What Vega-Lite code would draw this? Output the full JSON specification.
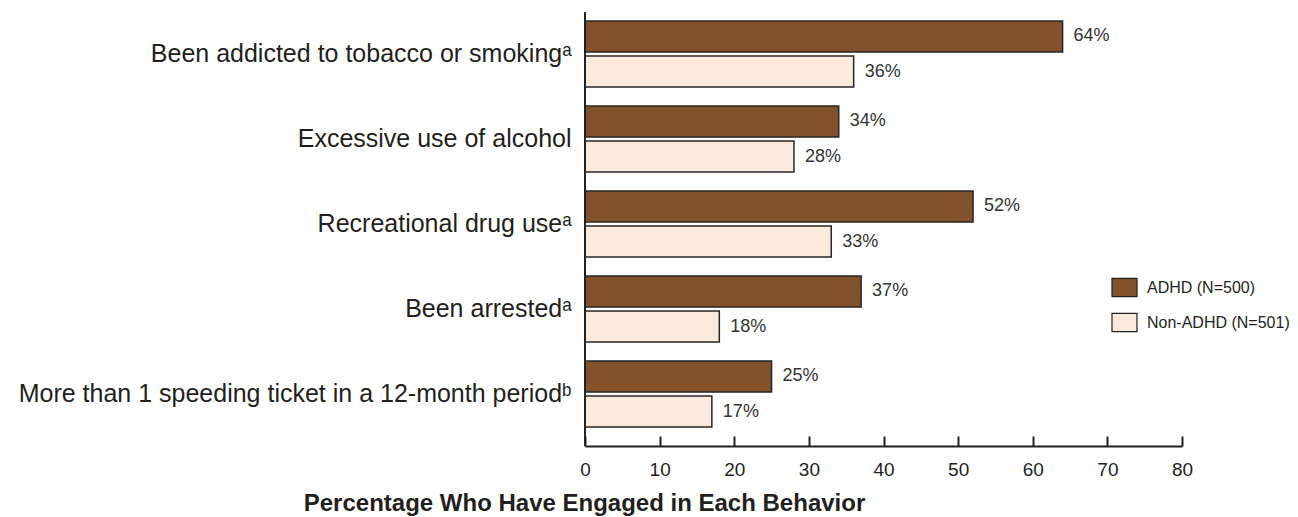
{
  "$schema": "https://vega.github.io/schema/vega-lite/v6.json",
  "width": 597,
  "height": 434,
  "autosize": {"type": "none"},
  "padding": {"left": 585, "top": 12, "right": 116, "bottom": 71},
  "background": "white",
  "config": {"view": {"stroke": null}, "font": "Liberation Sans"},
  "data": {
    "values": [
      {"behavior": "Been addicted to tobacco or smokingᵃ", "group": "ADHD (N=500)", "value": 64, "label": "64%"},
      {"behavior": "Been addicted to tobacco or smokingᵃ", "group": "Non-ADHD (N=501)", "value": 36, "label": "36%"},
      {"behavior": "Excessive use of alcohol", "group": "ADHD (N=500)", "value": 34, "label": "34%"},
      {"behavior": "Excessive use of alcohol", "group": "Non-ADHD (N=501)", "value": 28, "label": "28%"},
      {"behavior": "Recreational drug useᵃ", "group": "ADHD (N=500)", "value": 52, "label": "52%"},
      {"behavior": "Recreational drug useᵃ", "group": "Non-ADHD (N=501)", "value": 33, "label": "33%"},
      {"behavior": "Been arrestedᵃ", "group": "ADHD (N=500)", "value": 37, "label": "37%"},
      {"behavior": "Been arrestedᵃ", "group": "Non-ADHD (N=501)", "value": 18, "label": "18%"},
      {"behavior": "More than 1 speeding ticket in a 12-month periodᵇ", "group": "ADHD (N=500)", "value": 25, "label": "25%"},
      {"behavior": "More than 1 speeding ticket in a 12-month periodᵇ", "group": "Non-ADHD (N=501)", "value": 17, "label": "17%"}
    ]
  },
  "layer": [
    {
      "mark": {"type": "bar", "stroke": "#262626", "strokeWidth": 1.5},
      "encoding": {
        "y": {
          "field": "behavior", "type": "nominal", "sort": null,
          "scale": {"range": [9, 415], "paddingInner": 0.2235, "paddingOuter": 0},
          "axis": {"title": null, "domain": false, "ticks": false, "labelFontSize": 25, "labelColor": "#231f20", "labelPadding": 14, "labelLimit": 800}
        },
        "yOffset": {"field": "group", "type": "nominal", "sort": ["ADHD (N=500)", "Non-ADHD (N=501)"], "scale": {"paddingInner": 0.12, "paddingOuter": 0}},
        "x": {
          "field": "value", "type": "quantitative",
          "scale": {"domain": [0, 80], "nice": false},
          "axis": {
            "values": [0, 10, 20, 30, 40, 50, 60, 70, 80],
            "grid": false,
            "domainColor": "#222", "domainWidth": 2,
            "tickColor": "#222", "tickWidth": 2, "tickSize": -10,
            "labelFlush": false, "labelPadding": 33, "labelBaseline": "middle",
            "labelFontSize": 19, "labelColor": "#231f20",
            "title": "Percentage Who Have Engaged in Each Behavior",
            "titleFontSize": 24, "titleFontWeight": "bold", "titleColor": "#231f20",
            "titleX": -1, "titleY": 57, "titleAlign": "center", "titleBaseline": "middle"
          }
        },
        "color": {
          "field": "group", "type": "nominal",
          "scale": {"domain": ["ADHD (N=500)", "Non-ADHD (N=501)"], "range": ["#83512A", "#FCEBDC"]},
          "legend": {
            "orient": "none", "legendX": 526, "legendY": 262, "title": null, "padding": 0,
            "symbolType": "M-1,-0.73H1V0.73H-1Z", "symbolSize": 625,
            "symbolStrokeColor": "#222", "symbolStrokeWidth": 1.2, "symbolOpacity": 1,
            "labelFont": "Liberation Sans", "labelFontSize": 16, "labelColor": "#231f20",
            "labelOffset": 9, "rowPadding": 9, "labelLimit": 400
          }
        }
      }
    },
    {
      "mark": {"type": "text", "align": "left", "baseline": "middle", "dx": 11, "fontSize": 18, "color": "#333333"},
      "encoding": {
        "y": {"field": "behavior", "type": "nominal", "sort": null},
        "yOffset": {"field": "group", "type": "nominal", "sort": ["ADHD (N=500)", "Non-ADHD (N=501)"]},
        "x": {"field": "value", "type": "quantitative"},
        "text": {"field": "label"}
      }
    },
    {
      "data": {"values": [{}]},
      "mark": {"type": "rule", "color": "#222", "strokeWidth": 2},
      "encoding": {"x": {"datum": 0}}
    }
  ]
}
